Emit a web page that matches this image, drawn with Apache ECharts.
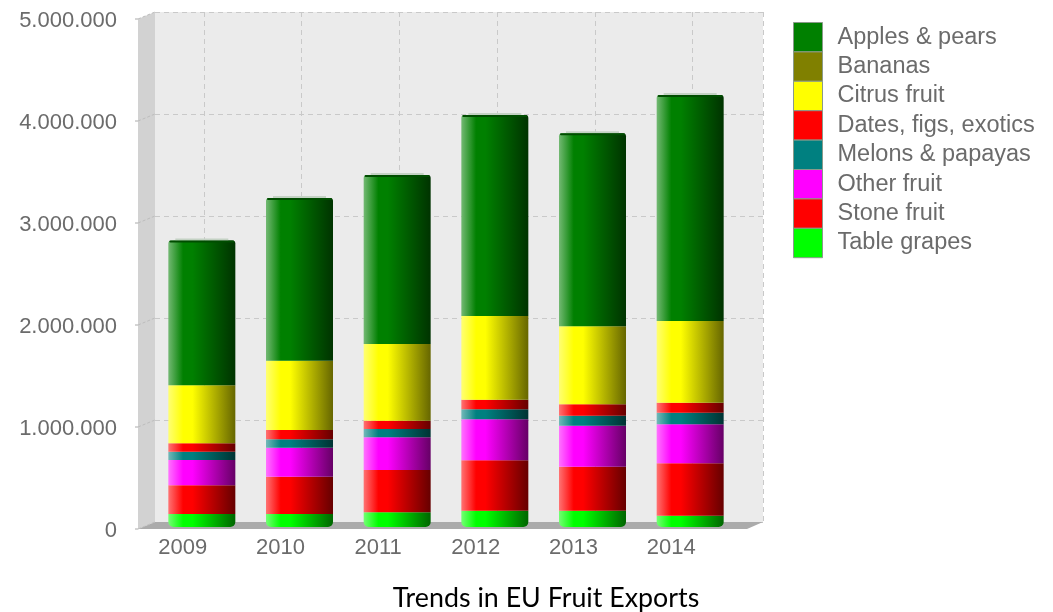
<!DOCTYPE html>
<html>
<head>
<meta charset="utf-8">
<style>html,body{margin:0;padding:0;background:#fff}#c{width:1053px;height:612px}</style>
<script src="https://cdn.jsdelivr.net/npm/echarts@6/dist/echarts.min.js"></script>
</head>
<body>
<div id="c"></div>
<script>
const years = ['2009','2010','2011','2012','2013','2014'];
const applesPears = [1420000,1595000,1656000,1971000,1892000,2215000];
const bananas = [0,0,0,0,0,0];
const citrusFruit = [570000,679000,752000,821000,765000,801000];
const datesFigsExotics = [82000,91000,81000,94000,112000,99000];
const melonsPapayas = [81000,83000,82000,98000,98000,113000];
const otherFruit = [247000,284000,320000,402000,402000,383000];
const stoneFruit = [283000,366000,415000,494000,431000,513000];
const tableGrapes = [127000,127000,144000,160000,160000,111000];
const yTicks = [0,1000000,2000000,3000000,4000000,5000000];

const legendOrder = ['Apples & pears','Bananas','Citrus fruit','Dates, figs, exotics','Melons & papayas','Other fruit','Stone fruit','Table grapes'];
const stackOrder = [
  ['Table grapes', tableGrapes, [0,255,0]],
  ['Stone fruit', stoneFruit, [255,0,0]],
  ['Other fruit', otherFruit, [255,0,255]],
  ['Melons & papayas', melonsPapayas, [0,128,128]],
  ['Dates, figs, exotics', datesFigsExotics, [255,0,0]],
  ['Citrus fruit', citrusFruit, [255,255,0]],
  ['Bananas', bananas, [128,128,0]],
  ['Apples & pears', applesPears, [0,128,0]]
];
const totals = years.map((_, i) => stackOrder.reduce((s, r) => s + r[1][i], 0));
const TEXT = '#6b6b6b';
const FONT = '"Liberation Sans", Arial, sans-serif';
const css = c => `rgb(${c.map(v => Math.round(v)).join(',')})`;
const toWhite = (c, t) => c.map(v => v + (255 - v) * t);
const toBlack = (c, t) => c.map(v => v * t);
const grad = c => new echarts.graphic.LinearGradient(0, 0, 1, 0, [
  {offset: 0, color: css(toWhite(c, 0.45))},
  {offset: 0.22, color: css(c)},
  {offset: 0.36, color: css(c)},
  {offset: 1, color: css(toBlack(c, 0.4))}
]);

const bars = stackOrder.map(([name, data, c]) => ({
  name, type: 'bar', stack: 'all', data,
  xAxisIndex: 0, yAxisIndex: 0, barWidth: 67, z: 3,
  itemStyle: {
    color: grad(c),
    borderRadius: name === 'Table grapes' ? [0,0,5,5] : name === 'Apples & pears' ? [3,3,0,0] : 0
  },
  emphasis: {disabled: true}, animation: false
}));

const cap = {
  type: 'custom', name: 'cap', xAxisIndex: 0, yAxisIndex: 0, z: 4, silent: true, animation: false,
  data: totals.map((t, i) => [i, t]),
  renderItem(params, api) {
    const p = api.coord([api.value(0), api.value(1)]);
    const w = api.size([1, 0])[0] * 67 / 97.7;
    return {type: 'group', children: [
      {type: 'rect', shape: {x: p[0] - w/2 + 7, y: p[1] - 2, width: w - 14, height: 2}, style: {fill: '#c4d2c4'}},
      {type: 'rect', shape: {x: p[0] - w/2 + 1, y: p[1], width: w - 2, height: 2, r: 1}, style: {fill: '#004d00'}}
    ]};
  }
};

const dashed = {show: true, lineStyle: {color: '#c9c9c9', type: [5, 4], width: 1}};
const hiddenAxis = {axisLine: {show: false}, axisTick: {show: false}, axisLabel: {show: false}};

const option = {
  backgroundColor: '#fff',
  animation: false,
  title: {
    text: 'Trends in EU Fruit Exports', left: 541, top: 580, textAlign: 'center',
    textStyle: {fontFamily: 'Lato, sans-serif', fontSize: 26.8, fontWeight: 'normal', color: '#000'}
  },
  legend: {
    orient: 'vertical', left: 793, top: 22, padding: 0, itemWidth: 29, itemHeight: 29.4, itemGap: -1,
    selectedMode: false,
    textStyle: {fontFamily: FONT, fontSize: 23.5, color: TEXT, padding: [0,0,0,10]},
    data: legendOrder.map(n => {
      const c = stackOrder.find(r => r[0] === n)[2];
      return {name: n, icon: 'rect', itemStyle: {color: css(c), borderColor: '#8a9a8a', borderWidth: 1}};
    })
  },
  grid: [
    {left: 153, width: 586, top: 17, height: 510},
    {left: 155, width: 608, top: 12, height: 510, show: true, backgroundColor: '#ebebeb', borderWidth: 0},
    {left: 204, width: 559, top: 12, height: 510},
    {left: 138, width: 586, top: 21, height: 510}
  ],
  xAxis: [
    {gridIndex: 0, type: 'category', data: years, ...hiddenAxis},
    {gridIndex: 1, type: 'value', min: 0, max: 1, ...hiddenAxis, splitLine: {show: false}},
    {gridIndex: 2, type: 'value', min: 0, max: 5.72, interval: 1, ...hiddenAxis, splitLine: dashed},
    {gridIndex: 3, type: 'category', data: years,
      axisLine: {show: false},
      axisTick: {alignWithLabel: true, length: 2, lineStyle: {color: '#aaa'}},
      axisLabel: {margin: 6, fontFamily: FONT, fontSize: 22, color: TEXT, padding: [0,8,0,0]}}
  ],
  yAxis: [
    {gridIndex: 0, type: 'value', min: 0, max: 5000000, interval: 1000000, ...hiddenAxis, splitLine: {show: false}},
    {gridIndex: 1, type: 'value', min: 0, max: 5000000, interval: 1000000, ...hiddenAxis, splitLine: dashed},
    {gridIndex: 2, type: 'value', min: 0, max: 5000000, interval: 1000000, ...hiddenAxis, splitLine: {show: false}},
    {gridIndex: 3, type: 'value', min: 0, max: 5000000, interval: 1000000, splitLine: {show: false},
      axisLine: {show: false},
      axisTick: {show: false},
      axisLabel: {margin: 21, fontFamily: FONT, fontSize: 22, color: TEXT,
        formatter: v => String(v).replace(/\B(?=(\d{3})+$)/g, '.')}}
  ],
  series: [...bars, cap],
  graphic: {elements: [
    {type: 'polygon', z: 1, silent: true, shape: {points: [[138,19],[155,12],[155,522],[138,529]]}, style: {fill: '#d2d2d2'}},
    {type: 'polygon', z: 1, silent: true, shape: {points: [[138,529],[155,522],[763,522],[747,529]]}, style: {fill: '#ababab'}},
    ...yTicks.flatMap(v => {
      const y = 529 - v / 5000000 * 510;
      return [
        {type: 'line', z: 2, silent: true, shape: {x1: 138, y1: y, x2: 155, y2: y - 7}, style: {stroke: '#bdbdbd', lineWidth: 1, lineDash: [3, 2]}},
        {type: 'line', z: 2, silent: true, shape: {x1: 135, y1: y, x2: 138, y2: y}, style: {stroke: '#aaa', lineWidth: 1}}
      ];
    })
  ]}
};
const chart = echarts.init(document.getElementById('c'), null, {renderer: 'canvas'});
chart.setOption(option);
</script>
</body>
</html>
